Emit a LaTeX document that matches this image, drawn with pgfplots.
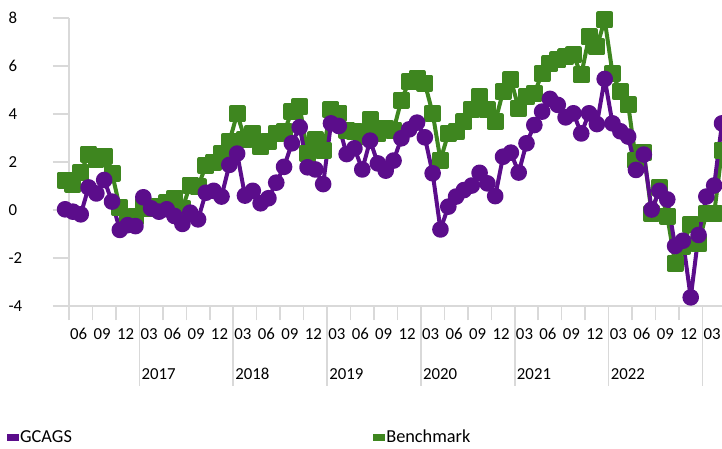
\documentclass[border=0pt]{standalone}
\usepackage{fontspec}
\setmainfont{Carlito}
\usepackage{pgfplots}
\usepackage{pgfplotstable}
\pgfplotsset{compat=1.18}
\definecolor{gcags}{RGB}{91,13,139}
\definecolor{bench}{RGB}{62,134,31}
\definecolor{axgray}{RGB}{217,217,217}

\pgfplotstableread{
m v
0 0.03
1 -0.07
2 -0.18
3 0.94
4 0.69
5 1.25
6 0.35
7 -0.83
8 -0.63
9 -0.67
10 0.53
11 0.07
12 -0.07
13 0.03
14 -0.25
15 -0.58
16 -0.11
17 -0.39
18 0.72
19 0.80
20 0.56
21 1.88
22 2.35
23 0.60
24 0.80
25 0.28
26 0.49
27 1.14
28 1.80
29 2.78
30 3.45
31 1.78
32 1.69
33 1.08
34 3.61
35 3.50
36 2.33
37 2.57
38 1.69
39 2.89
40 1.94
41 1.64
42 2.06
43 2.99
44 3.36
45 3.64
46 3.03
47 1.53
48 -0.81
49 0.14
50 0.56
51 0.83
52 1.02
53 1.55
54 1.11
55 0.58
56 2.22
57 2.39
58 1.56
59 2.78
60 3.54
61 4.10
62 4.63
63 4.38
64 3.86
65 4.03
66 3.19
67 4.03
68 3.58
69 5.46
70 3.61
71 3.28
72 3.06
73 1.67
74 2.31
75 0.02
76 0.80
77 0.44
78 -1.50
79 -1.28
80 -3.64
81 -1.04
82 0.56
83 1.02
84 3.61
}\gcagsdata

\pgfplotstableread{
m v
0 1.25
1 1.08
2 1.56
3 2.33
4 2.11
5 2.25
6 1.53
7 0.10
8 -0.30
9 -0.28
10 0.15
11 0.05
12 0.15
13 0.30
14 0.49
15 0.07
16 1.04
17 0.97
18 1.85
19 2.00
20 2.35
21 2.85
22 4.00
23 2.95
24 3.19
25 2.64
26 2.85
27 3.19
28 3.26
29 4.10
30 4.31
31 2.36
32 2.92
33 2.50
34 4.17
35 4.03
36 3.33
37 3.26
38 3.05
39 3.75
40 3.19
41 3.40
42 3.33
43 4.58
44 5.35
45 5.49
46 5.28
47 4.03
48 2.08
49 3.19
50 3.26
51 3.68
52 4.20
53 4.72
54 4.17
55 3.68
56 4.93
57 5.42
58 4.24
59 4.72
60 4.86
61 5.69
62 6.11
63 6.25
64 6.39
65 6.46
66 5.63
67 7.22
68 6.80
69 7.92
70 5.69
71 4.93
72 4.38
73 2.08
74 2.40
75 -0.15
76 0.95
77 -0.25
78 -2.22
79 -1.50
80 -0.60
81 -1.40
82 -0.15
83 -0.14
84 2.50
}\benchdata

\begin{document}
\begin{tikzpicture}
\path[use as bounding box] (0bp,0bp) rectangle (722bp,-449bp);
\begin{axis}[
  at={(69bp,-306bp)}, anchor=south west,
  scale only axis, width=653bp, height=288bp,
  xmin=0.5, xmax=84, ymin=-4, ymax=8,
  clip=false,
  axis x line*=bottom, axis y line*=left,
  axis line style={-, draw=axgray, line width=1.6bp},
  ytick={-4,-2,0,2,4,6,8},
  xtick={2,5,...,83},
  xticklabels={06,09,12,03,06,09,12,03,06,09,12,03,06,09,12,03,06,09,12,03,06,09,12,03,06,09,12,03},
  minor xtick={0.5,3.5,...,81.5},
  tick align=outside,
  major tick length=16bp, minor tick length=14bp,
  x tick style={draw=none},
  minor x tick style={draw=axgray, line width=1.6bp},
  y tick style={draw=axgray, line width=1.6bp},
  tick label style={font=\fontsize{16.8bp}{20bp}\selectfont, text=black},
  /pgf/number format/assume math mode=true,
  yticklabel style={anchor=west, xshift=-48bp},
  xticklabel style={anchor=center, yshift=-12bp, xshift=-2bp},
  legend columns=2,
  legend image code/.code={\fill (0bp,-2.7bp) rectangle (11bp,2.7bp);},
  legend style={at={(axis description cs:-0.0945,-0.455)}, anchor=west,
    draw=none, fill=none, inner sep=0pt, outer sep=0pt,
    font=\fontsize{18.3bp}{20bp}\selectfont,
    nodes={inner xsep=1.5bp, inner ysep=0bp},
    /tikz/every even column/.append style={column sep=300bp}},
  legend cell align=left,
]
\addlegendimage{color=gcags}
\addlegendimage{color=bench}
\legend{GCAGS,Benchmark}
\addplot[forget plot, color=bench, line width=4bp, line join=round, mark=square*, mark size=6.5bp, mark options={solid}] table[x=m,y=v] {\benchdata};
\addplot[forget plot, color=gcags, line width=4bp, line join=round, mark=*, mark size=6.3bp, mark options={solid}] table[x=m,y=v] {\gcagsdata};
\foreach \yr/\xp in {2017/9.5,2018/21.5,2019/33.5,2020/45.5,2021/57.5,2022/69.5} {
  \edef\tmp{\noexpand\node[anchor=west, font=\noexpand\fontsize{16.8bp}{20bp}\noexpand\selectfont, inner sep=0pt, xshift=2bp, yshift=-68bp] at (axis cs:\xp,-4) {\yr};}
  \tmp
}
\foreach \xp in {9.5,21.5,33.5,45.5,57.5,69.5,81.5} {
  \edef\tmp{\noexpand\draw[axgray, line width=1.6bp] (axis cs:\xp,-4) -- ++(0bp,-80bp);}
  \tmp
}
\end{axis}
\end{tikzpicture}
\end{document}
